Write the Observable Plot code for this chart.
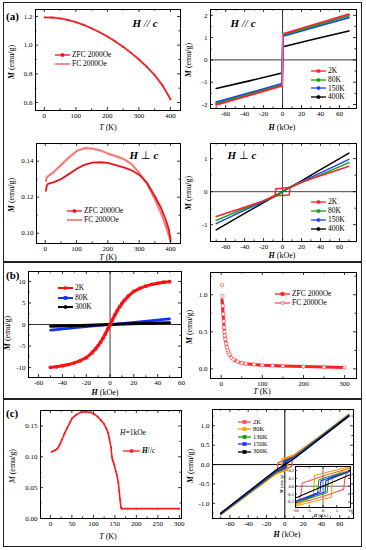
<!DOCTYPE html>
<html><head><meta charset="utf-8">
<script src="https://cdn.jsdelivr.net/npm/d3@7"></script>
<script src="https://cdn.jsdelivr.net/npm/@observablehq/plot@0.6"></script>
<style>
body{margin:0;background:#fff;}
#root{position:relative;width:366px;height:550px;overflow:hidden;font-family:"Liberation Serif",serif;background:#fff;color:#000;}
.abs{position:absolute;white-space:nowrap;line-height:1;}
</style></head><body><div id="root"></div><script>
// ---------- (a) H // c : M vs T at 2000 Oe ----------
const a1T   = [2, 25, 50, 75, 100, 125, 150, 175, 200, 225, 250, 275, 300, 325, 350, 375, 400];
const a1ZFC = [1.193, 1.192, 1.186, 1.175, 1.160, 1.140, 1.117, 1.090, 1.060, 1.026, 0.988, 0.946, 0.900, 0.849, 0.790, 0.718, 0.622];
const a1FC  = [1.195, 1.194, 1.188, 1.177, 1.162, 1.142, 1.118, 1.091, 1.061, 1.027, 0.989, 0.947, 0.901, 0.850, 0.792, 0.720, 0.625];
const a1XTicks = [0, 100, 200, 300, 400];
const a1YTicks = [0.6, 0.8, 1.0, 1.2];

// ---------- (a) H // c : M vs H ----------
const a2H     = [-70, -35, -0.5, 0.5, 35, 70];
const a2M2K   = [-2.02, -1.59, -1.17, 1.17, 1.61, 2.05];
const a2M80K  = [-1.96, -1.54, -1.12, 1.12, 1.55, 1.98];
const a2M150K = [-1.89, -1.48, -1.06, 1.06, 1.48, 1.90];
const a2M400K = [-1.28, -0.94, -0.59, 0.59, 0.95, 1.30];
const hTicks70 = [-60, -40, -20, 0, 20, 40, 60];
const a2YTicks = [-2, -1, 0, 1, 2];

// ---------- (a) H ⊥ c : M vs T ----------
const a3T   = [2, 5, 10, 20, 30, 50, 75, 100, 125, 150, 175, 200, 225, 250, 275, 300, 325, 350, 370, 385, 395, 400];
const a3ZFC = [0.1235, 0.1265, 0.1275, 0.1280, 0.1285, 0.1300, 0.1328, 0.1357, 0.1380, 0.1392, 0.1394, 0.1390, 0.1378, 0.1365, 0.1350, 0.1325, 0.1280, 0.1205, 0.1140, 0.1075, 0.1020, 0.0965];
const a3FC  = [0.1290, 0.1310, 0.1318, 0.1330, 0.1345, 0.1378, 0.1420, 0.1456, 0.1472, 0.1470, 0.1460, 0.1442, 0.1428, 0.1412, 0.1385, 0.1335, 0.1275, 0.1190, 0.1110, 0.1040, 0.0990, 0.0955];
const a3YTicks = [0.10, 0.12, 0.14];

// ---------- (a) H ⊥ c : M vs H ----------
const a4H2K   = [70, 40, 20, 8, -7, -8, -20, -40, -70, -40, -20, -8, 7, 8, 20, 40, 70];
const a4M2K   = [0.77, 0.48, 0.29, 0.13, 0.09, -0.11, -0.27, -0.47, -0.75, -0.47, -0.27, -0.12, -0.10, 0.12, 0.29, 0.48, 0.77];
const a4H     = [-70, -40, -20, -6, 6, 20, 40, 70];
const a4M80K  = [-0.87, -0.51, -0.28, -0.12, 0.12, 0.28, 0.51, 0.88];
const a4M150K = [-0.97, -0.56, -0.30, -0.11, 0.11, 0.30, 0.57, 0.98];
const a4M400K = [-1.16, -0.66, -0.33, -0.10, 0.10, 0.33, 0.67, 1.17];
const a4YTicks = [-1, 0, 1];

// ---------- (b) M vs H ----------
const b1H    = [-50, -45, -40, -35, -30, -25, -20, -15, -12, -10, -8, -6, -4, -2, 0, 2, 4, 6, 8, 10, 12, 15, 20, 25, 30, 35, 40, 45, 50];
const b1M2K  = [-9.95, -9.8, -9.55, -9.3, -8.9, -8.4, -7.7, -6.5, -5.6, -4.9, -4.1, -3.2, -2.2, -1.1, 0, 1.1, 2.2, 3.2, 4.1, 4.9, 5.6, 6.5, 7.7, 8.4, 8.9, 9.3, 9.55, 9.8, 9.95];
const b1Hlin   = [-50, -25, 0, 25, 50];
const b1M80K   = [-1.30, -0.65, 0, 0.65, 1.30];
const b1M300K  = [-0.42, -0.21, 0, 0.21, 0.42];
const b1XTicks = [-60, -40, -20, 0, 20, 40, 60];
const b1YTicks = [-10, -5, 0, 5, 10];

// ---------- (b) M vs T ----------
const b2T   = [2, 3, 4, 5, 6, 7, 8, 9, 10, 12, 14, 16, 18, 20, 25, 30, 40, 50, 60, 80, 100, 125, 150, 200, 250, 300];
const b2FC  = [1.13, 0.98, 0.85, 0.74, 0.64, 0.56, 0.50, 0.45, 0.40, 0.34, 0.29, 0.25, 0.22, 0.195, 0.15, 0.125, 0.097, 0.080, 0.070, 0.058, 0.050, 0.044, 0.039, 0.031, 0.025, 0.020];
const b2ZFC = [0.93, 0.88, 0.80, 0.72, 0.63, 0.55, 0.49, 0.44, 0.40, 0.34, 0.29, 0.25, 0.22, 0.195, 0.15, 0.125, 0.097, 0.080, 0.070, 0.058, 0.050, 0.044, 0.039, 0.031, 0.025, 0.020];
const b2XTicks = [0, 100, 200, 300];
const b2YTicks = [0.0, 0.5, 1.0];

// ---------- (c) M vs T, H = 1 kOe ----------
const c1T = [3, 10, 16, 22, 27, 33, 39, 45, 50, 60, 70, 82, 94, 102, 110, 118, 125, 130, 134, 137, 141, 143, 145, 148, 152, 155, 158, 160, 162, 164, 166, 180, 200, 250, 300];
const c1M = [0.108, 0.110, 0.113, 0.120, 0.128, 0.138, 0.147, 0.155, 0.162, 0.168, 0.172, 0.173, 0.172, 0.169, 0.165, 0.159, 0.153, 0.146, 0.139, 0.130, 0.115, 0.100, 0.094, 0.088, 0.077, 0.070, 0.058, 0.045, 0.031, 0.018, 0.016, 0.016, 0.016, 0.016, 0.016];
const c1XTicks = [0, 50, 100, 150, 200, 250, 300];
const c1YTicks = [0.00, 0.05, 0.10, 0.15];

// ---------- (c) M vs H loops ----------
const c2H2K   = [70, 40, 10, 5, 0, -5, -7.5, -8, -8.5, -10, -40, -70, -40, -10, -5, 0, 5, 7.5, 8, 8.5, 10, 40, 70];
const c2M2K   = [1.25, 0.72, 0.23, 0.18, 0.13, 0.07, 0.04, -0.10, -0.16, -0.22, -0.75, -1.27, -0.75, -0.22, -0.18, -0.13, -0.07, -0.04, 0.10, 0.16, 0.22, 0.72, 1.25];
const c2H80K  = [70, 40, 10, 3, -3, -3.5, -10, -40, -70, -40, -10, -3, 3, 3.5, 10, 40, 70];
const c2M80K  = [1.30, 0.76, 0.25, 0.19, 0.14, -0.13, -0.24, -0.77, -1.30, -0.77, -0.25, -0.19, -0.14, 0.13, 0.24, 0.76, 1.30];
const c2H130K = [70, 40, 10, 0, -1.5, -2, -10, -40, -70, -40, -10, 0, 1.5, 2, 10, 40, 70];
const c2M130K = [1.28, 0.74, 0.20, 0.10, 0.08, -0.10, -0.21, -0.75, -1.28, -0.75, -0.21, -0.10, -0.08, 0.10, 0.20, 0.74, 1.28];
const c2H150K = [70, 40, 10, 0, -0.8, -1, -10, -40, -70, -40, -10, 0, 0.8, 1, 10, 40, 70];
const c2M150K = [1.27, 0.73, 0.19, 0.08, 0.07, -0.07, -0.19, -0.73, -1.27, -0.73, -0.19, -0.08, -0.07, 0.07, 0.19, 0.73, 1.27];
const c2H300K = [-70, -10, 0, 10, 70];
const c2M300K = [-1.25, -0.15, 0, 0.15, 1.25];
const c2YTicks = [-1.0, -0.5, 0.0, 0.5, 1.0];
const insetXTicks = [-10, -5, 0, 5, 10];
const insetYTicks = [-0.2, -0.1, 0.0, 0.1, 0.2];

// ================= drawing =================
const root = document.getElementById("root");
const rows = (xs, ys) => xs.map((x, i) => ({x, y: ys[i]}));
const fInt = d => String(d);
const f1 = d => d.toFixed(1);
const f2 = d => d.toFixed(2);

function box(l, t, w, h) {
  const d = document.createElement("div"); d.className = "abs";
  Object.assign(d.style, {left: l + "px", top: t + "px", width: w + "px", height: h + "px", border: "1px solid #222", boxSizing: "border-box"});
  root.appendChild(d);
}
function text(html, x, y, {size = 8, rotate = false, anchor = "middle", weight = null, style = null} = {}) {
  const d = document.createElement("div"); d.className = "abs";
  d.innerHTML = html;
  d.style.left = x + "px"; d.style.top = y + "px"; d.style.fontSize = size + "px";
  let tr = anchor === "middle" ? "translate(-50%,-50%)" : "translate(0,-50%)";
  if (rotate) tr += " rotate(-90deg)";
  d.style.transform = tr;
  if (weight) d.style.fontWeight = weight;
  if (style) d.style.fontStyle = style;
  root.appendChild(d);
}
function legend(x, y, color, label, {marker = "circle", w = 15, size = 7.5, open = false, sw = 1.3} = {}) {
  const d = document.createElement("div"); d.className = "abs";
  d.style.left = x + "px"; d.style.top = (y - size / 2) + "px"; d.style.height = size + "px";
  d.style.display = "flex"; d.style.alignItems = "center"; d.style.fontSize = size + "px";
  let mk = "";
  const cx = w / 2;
  if (marker === "circle") mk = `<circle cx="${cx}" cy="4" r="1.6" fill="${open ? "#fff" : color}" stroke="${color}" stroke-width="0.8"/>`;
  else if (marker === "square") mk = `<rect x="${cx - 1.6}" y="2.4" width="3.2" height="3.2" fill="${open ? "#fff" : color}" stroke="${color}" stroke-width="0.6"/>`;
  d.innerHTML = `<svg width="${w}" height="8" style="margin-right:2px;overflow:visible"><line x1="0" x2="${w}" y1="4" y2="4" stroke="${color}" stroke-width="${sw}"/>${mk}</svg><span>${label}</span>`;
  root.appendChild(d);
}

function panel({l, t, r, b, xDomain, yDomain, xTicks, yTicks, xMinor = [], yMinor = [], xFmt = fInt, yFmt = fInt, marks, fs = 7, major = 3, minor = 1.6, bg = null, pad = 3}) {
  const w = r - l, h = b - t;
  const ml = 36, mr = 10, mt = 6, mb = 16;
  const st = "#000";
  const m = [];
  if (bg) m.push(Plot.frame({fill: bg, stroke: null}));
  m.push(...marks);
  const tx = (vals, len) => [
    Plot.tickX(vals, {x: d => d, insetTop: h - len, stroke: st, strokeWidth: 0.8}),
    Plot.tickX(vals, {x: d => d, insetBottom: h - len, stroke: st, strokeWidth: 0.8})
  ];
  const ty = (vals, len) => [
    Plot.tickY(vals, {y: d => d, insetRight: w - len, stroke: st, strokeWidth: 0.8}),
    Plot.tickY(vals, {y: d => d, insetLeft: w - len, stroke: st, strokeWidth: 0.8})
  ];
  m.push(...tx(xTicks, major), ...tx(xMinor, minor), ...ty(yTicks, major), ...ty(yMinor, minor));
  m.push(Plot.frame({stroke: "#000", strokeWidth: 1}));
  m.push(Plot.axisX({ticks: xTicks, tickSize: 0, tickPadding: pad, tickFormat: xFmt, label: null, fontSize: fs}));
  m.push(Plot.axisY({ticks: yTicks, tickSize: 0, tickPadding: pad, tickFormat: yFmt, label: null, fontSize: fs}));
  const svg = Plot.plot({
    width: w + ml + mr, height: h + mt + mb,
    marginLeft: ml, marginRight: mr, marginTop: mt, marginBottom: mb,
    x: {domain: xDomain}, y: {domain: yDomain},
    style: {fontFamily: "Liberation Serif", fontSize: fs + "px", background: "transparent", overflow: "visible", color: "#000"},
    marks: m
  });
  const wrap = document.createElement("div"); wrap.className = "abs";
  wrap.style.left = (l - ml) + "px"; wrap.style.top = (t - mt) + "px";
  wrap.appendChild(svg);
  root.appendChild(wrap);
}
const zero = (c = "#000", sw = 0.9) => [Plot.ruleX([0], {stroke: c, strokeWidth: sw}), Plot.ruleY([0], {stroke: c, strokeWidth: sw})];
const ln = (xs, ys, stroke, sw = 1.5, extra = {}) => Plot.line(rows(xs, ys), {x: "x", y: "y", stroke, strokeWidth: sw, ...extra});
const dt = (xs, ys, color, r = 1, extra = {}) => Plot.dot(rows(xs, ys), {x: "x", y: "y", r, fill: color, stroke: null, ...extra});

// section boxes
box(3, 2, 359, 260);
box(3, 262, 359, 137);
box(3, 399, 359, 148);

// colours
const RED = "#e8141b", PINK = "#f47c7c";

// a1
panel({l: 35, t: 9, r: 180, b: 110, xDomain: [-28, 432], yDomain: [0.544, 1.249],
  xTicks: a1XTicks, yTicks: a1YTicks, xMinor: [50, 150, 250, 350], yMinor: [0.7, 0.9, 1.1], yFmt: f1,
  marks: [ln(a1T, a1FC, PINK, 2.2), ln(a1T, a1ZFC, RED, 1.1), dt(a1T, a1ZFC, RED, 0.9)]});
// a2
panel({l: 210, t: 9, r: 356, b: 108, xDomain: [-76, 78], yDomain: [-2.18, 2.26],
  xTicks: hTicks70, yTicks: a2YTicks, xMinor: [-70, -50, -30, -10, 10, 30, 50, 70], yMinor: [-1.5, -0.5, 0.5, 1.5],
  marks: [...zero("#333", 1),
    ln(a2H, a2M400K, "#000", 1.6), ln(a2H, a2M150K, "#2040ff", 1.8), ln(a2H, a2M80K, "#10a010", 1.8), ln(a2H, a2M2K, "#ff2030", 1.8),
    Plot.ruleX([0], {y1: -1.17, y2: 1.17, stroke: "#e060e0", strokeWidth: 1.5})]});
// a3
panel({l: 36, t: 143, r: 180, b: 243, xDomain: [-28, 432], yDomain: [0.0943, 0.1498],
  xTicks: a1XTicks, yTicks: a3YTicks, xMinor: [50, 150, 250, 350], yMinor: [0.11, 0.13], yFmt: f2,
  marks: [ln(a3T, a3FC, PINK, 2.2), ln(a3T, a3ZFC, RED, 1.8)]});
// a4
panel({l: 210, t: 143, r: 356, b: 241, xDomain: [-76, 78], yDomain: [-1.51, 1.46],
  xTicks: hTicks70, yTicks: a4YTicks, xMinor: [-70, -50, -30, -10, 10, 30, 50, 70], yMinor: [-0.5, 0.5],
  marks: [...zero("#444", 1),
    ln(a4H, a4M400K, "#000", 1.5), ln(a4H, a4M150K, "#2040ff", 1.5), ln(a4H, a4M80K, "#10a010", 1.5), ln(a4H2K, a4M2K, "#ff2030", 1.5)]});
// b1
panel({l: 28, t: 271, r: 181, b: 377, xDomain: [-68.5, 60], yDomain: [-12.3, 12.3],
  xTicks: b1XTicks, yTicks: b1YTicks, xMinor: [-50, -30, -10, 10, 30, 50], yMinor: [-7.5, -2.5, 2.5, 7.5],
  marks: [...zero("#000", 0.8),
    ln(b1Hlin, b1M80K, "#1030ff", 2.6), ln(b1Hlin, b1M300K, "#000", 3),
    ln(b1H, b1M2K, "#ff1010", 3), dt(b1H, b1M2K, "#ff1010", 1.9)]});
// b2
panel({l: 210, t: 272, r: 356, b: 378, xDomain: [-26, 329], yDomain: [-0.13, 1.3],
  xTicks: b2XTicks, yTicks: b2YTicks, xMinor: [50, 150, 250], yMinor: [0.25, 0.75, 1.25], yFmt: f1,
  marks: [ln(b2T, b2ZFC, "#ff2020", 3),
    dt(b2T, b2ZFC, "#ff2020", 1.3, {symbol: "square"}),
    Plot.dot(rows(b2T, b2FC), {x: "x", y: "y", r: 1.8, stroke: "#ff5050", fill: "#fff", strokeWidth: 0.7})]});
// c1
panel({l: 40, t: 410, r: 181, b: 518, xDomain: [-23, 305], yDomain: [0, 0.175],
  xTicks: c1XTicks, yTicks: c1YTicks, xMinor: [25, 75, 125, 175, 225, 275], yMinor: [0.025, 0.075, 0.125], yFmt: f2,
  marks: [ln(c1T, c1M, "#ff1a1a", 1.6), dt(c1T, c1M, "#ff1a1a", 1)]});
// c2
const C2 = [["#ff5050", c2H2K, c2M2K], ["#ff9a00", c2H80K, c2M80K], ["#10a010", c2H130K, c2M130K], ["#2030ff", c2H150K, c2M150K], ["#000", c2H300K, c2M300K]];
panel({l: 212, t: 409, r: 353, b: 518, xDomain: [-79, 75], yDomain: [-1.39, 1.42],
  xTicks: hTicks70, yTicks: c2YTicks, xMinor: [-70, -50, -30, -10, 10, 30, 50, 70], yMinor: [-1.25, -0.75, -0.25, 0.25, 0.75, 1.25], yFmt: f1,
  marks: [...zero("#000", 1), ...C2.map(([c, h, m]) => ln(h, m, c, 1.4))]});
// inset
const inner = (h, m) => { const hs = [], ms = []; h.forEach((v, i) => { if (Math.abs(v) <= 10) { hs.push(v); ms.push(m[i]); } }); return [hs, ms]; };
panel({l: 295, t: 466, r: 350, b: 507, xDomain: [-10, 10], yDomain: [-0.27, 0.25], bg: "#fff",
  xTicks: insetXTicks, yTicks: insetYTicks, fs: 4.5, major: 2, minor: 1, pad: 1.5, yFmt: f1,
  marks: [...zero("#000", 0.6), ...C2.map(([c, h, m]) => { const [hs, ms] = inner(h, m); return ln(hs, ms, c, 1.1); })]});

// panel letters
text("(a)", 6, 16, {size: 11, weight: "bold", anchor: "start"});
text("(b)", 6, 275, {size: 11, weight: "bold", anchor: "start"});
text("(c)", 6, 413, {size: 11, weight: "bold", anchor: "start"});

// in-panel titles
text("<b><i>H</i></b> <i>//</i> <b><i>c</i></b>", 145, 23, {size: 11});
text("<b><i>H</i></b> <i>//</i> <b><i>c</i></b>", 243, 23, {size: 11});
text("<b><i>H</i></b> ⊥ <b><i>c</i></b>", 144, 155, {size: 11});
text("<b><i>H</i></b> ⊥ <b><i>c</i></b>", 242, 155, {size: 11});
text("<i>H</i>=1kOe", 120, 433, {size: 7.5, anchor: "start"});

// axis titles
const MB = "<b><i>M</i></b> (emu/g)";
text(MB, 12, 62, {rotate: true});
text(MB, 189, 60, {rotate: true});
text(MB, 12, 195, {rotate: true});
text(MB, 189, 193, {rotate: true});
text(MB, 8, 333, {rotate: true});
text(MB, 190, 327, {rotate: true});
text("<i>M</i> (emu/g)", 13, 466, {rotate: true});
text(MB, 191, 466, {rotate: true});
text(MB, 282, 484, {rotate: true, size: 4.3});
text("<i>T</i> (K)", 108, 128);
text("<b><i>H</i></b> (kOe)", 282, 128);
text("<i>T</i> (K)", 108, 258);
text("<b><i>H</i></b> (kOe)", 282, 256);
text("<b><i>H</i></b> (kOe)", 105, 393);
text("<i>T</i> (K)", 262, 392);
text("<i>T</i> (K)", 108, 537);
text("<b><i>H</i></b> (kOe)", 287, 535);
text("<b><i>H</i></b> (kOe)", 321, 516, {size: 4.3});

// legends
legend(55, 55, RED, "ZFC 2000Oe");
legend(55, 63.5, PINK, "FC 2000Oe", {marker: null, sw: 1.8});
const L4 = [["#ff2030", "2K"], ["#10a010", "80K"], ["#2040ff", "150K"], ["#000", "400K"]];
L4.forEach(([c, s], i) => legend(311, 71 + i * 8.7, c, s));
L4.forEach(([c, s], i) => legend(311, 202 + i * 9, c, s));
legend(67, 211, RED, "ZFC 2000Oe");
legend(67, 220, PINK, "FC 2000Oe", {marker: null, sw: 1.8});
legend(58, 288, "#ff1010", "2K", {sw: 2});
legend(58, 297.5, "#1030ff", "80K", {marker: "square", sw: 2});
legend(58, 306.5, "#000", "300K", {sw: 2});
legend(275, 294, "#ff2020", "ZFC 2000Oe", {marker: "square"});
legend(275, 303, "#ff5050", "FC 2000Oe", {open: true});
legend(123, 451, "#ff1a1a", "<b><i>H</i></b>//<i>c</i>", {w: 17});
const L5 = [["#ff5050", "2K"], ["#ff9a00", "80K"], ["#10a010", "130K"], ["#2030ff", "150K"], ["#000", "300K"]];
L5.forEach(([c, s], i) => legend(238, 422 + i * 7.4, c, s, {marker: "square", w: 13, size: 6.5}));
</script></body></html>
